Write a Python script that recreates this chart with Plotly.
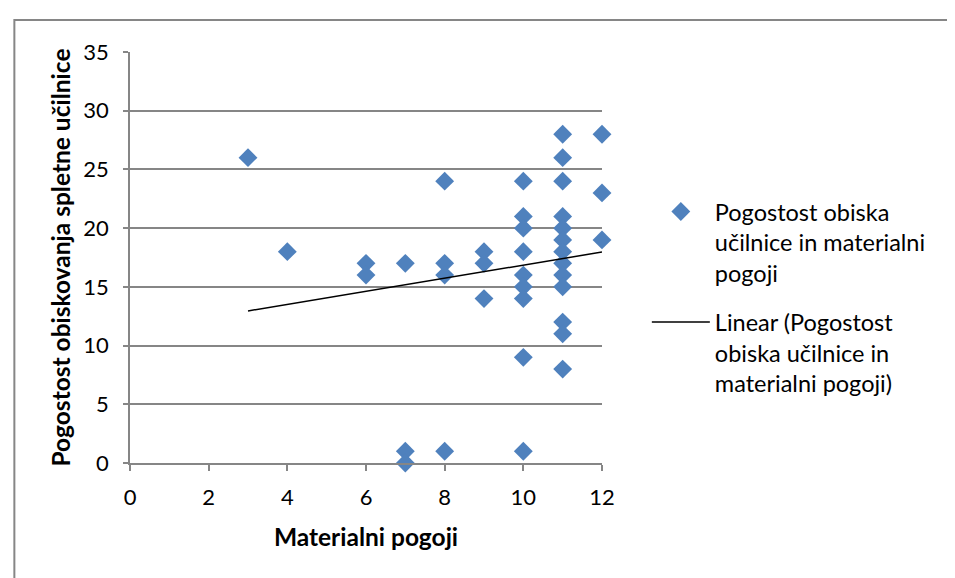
import numpy as np
import plotly.graph_objects as go

x_vals = [3, 4, 6, 6, 7, 7, 7, 8, 8, 8, 8, 9, 9, 9,
          10, 10, 10, 10, 10, 10, 10, 10, 10,
          11, 11, 11, 11, 11, 11, 11, 11, 11, 11, 11, 11, 11,
          12, 12, 12]
y_vals = [26, 18, 17, 16, 17, 1, 0, 24, 17, 16, 1, 18, 17, 14,
          24, 21, 20, 18, 16, 15, 14, 9, 1,
          28, 26, 24, 21, 20, 19, 18, 17, 16, 15, 12, 11, 8,
          28, 23, 19]

series_name = "Pogostost obiska<br>učilnice in materialni<br>pogoji"
trend_name = "Linear (Pogostost<br>obiska učilnice in<br>materialni pogoji)"
x_title = "Materialni pogoji"
y_title = "Pogostost obiskovanja spletne učilnice"

slope, intercept = np.polyfit(x_vals, y_vals, 1)
tx = [min(x_vals), max(x_vals)]
ty = [slope * v + intercept for v in tx]

FONT = "Lato"
GRAY = "#868686"

fig = go.Figure()
fig.add_trace(go.Scatter(
    x=x_vals, y=y_vals, mode="markers", name=series_name, legendgroup="pts",
    marker=dict(symbol="diamond", size=14.5, color="#4F81BD"),
    cliponaxis=False,
))
fig.add_trace(go.Scatter(
    x=tx, y=ty, mode="lines", name=trend_name, legendgroup="trend",
    line=dict(color="black", width=1.5),
))

fig.update_layout(
    width=955, height=578,
    margin=dict(l=122, r=361, t=44, b=123),
    paper_bgcolor="white", plot_bgcolor="white",
    font=dict(family=FONT, color="black", size=20),
    xaxis=dict(
        range=[0, 12], dtick=2, tick0=0, showgrid=False, zeroline=False,
        showline=True, linecolor=GRAY, linewidth=1.5,
        ticks="outside", ticklen=6, tickcolor=GRAY, tickwidth=1.5,
        tickfont=dict(size=22, family=FONT), automargin=False,
        ticklabelstandoff=8,
        title=dict(text="<b>" + x_title + "</b>", font=dict(size=24.5, family=FONT), standoff=20),
    ),
    yaxis=dict(
        range=[0, 35], dtick=5, tick0=0, showgrid=True, gridcolor=GRAY, gridwidth=1.5,
        zeroline=False, showline=True, linecolor=GRAY, linewidth=1.5,
        ticks="outside", ticklen=5, tickcolor=GRAY, tickwidth=1.5,
        tickfont=dict(size=22, family=FONT), automargin=False,
        ticklabelstandoff=10,
        title=dict(text="<b>" + y_title + "</b>", font=dict(size=24.5, family=FONT), standoff=6),
    ),
    legend=dict(
        x=1.095, y=0.665, xanchor="left", yanchor="top", valign="top",
        font=dict(size=23.5, family=FONT), tracegroupgap=16, itemwidth=58,
        bgcolor="rgba(0,0,0,0)",
    ),
    shapes=[dict(type="rect", xref="paper", yref="paper",
                 x0=-0.245, x1=1.8, y0=-0.5, y1=1.0778,
                 line=dict(color=GRAY, width=2), fillcolor="rgba(0,0,0,0)")],
)

fig.write_html("out.html")
